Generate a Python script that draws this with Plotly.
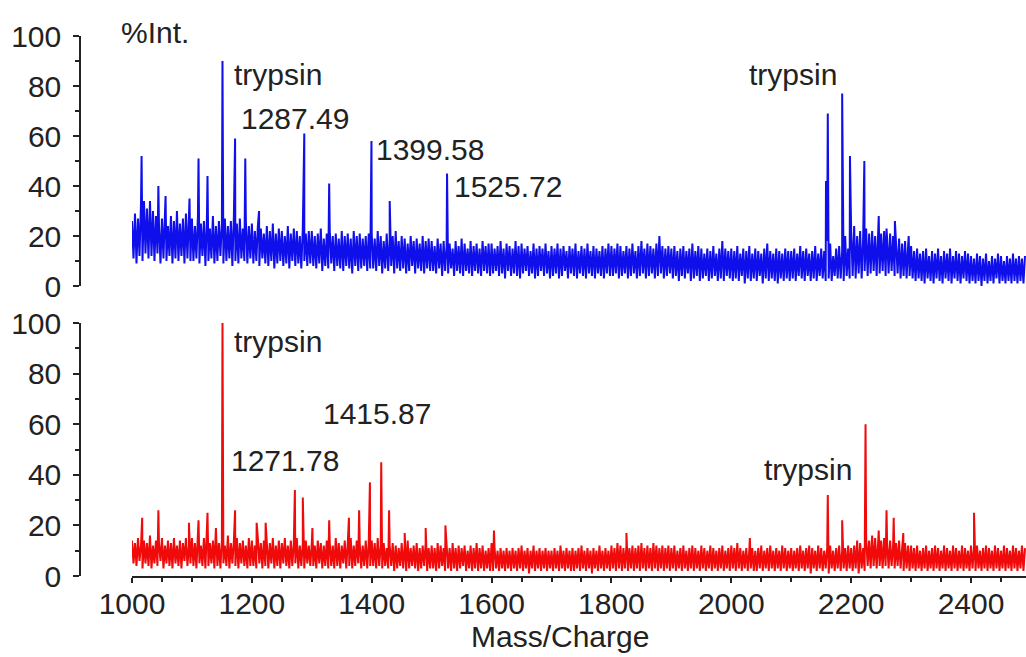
import numpy as np
import plotly.graph_objects as go

# ---------------------------------------------------------------------------
# Spectra data
# Baseline (noise) intensities sampled every 2.5 m/z from 1000 upward,
# one row per 100 m/z.
# ---------------------------------------------------------------------------
baseline_start = 1000
baseline_step = 2.5

top_baseline = [
    26, 11, 29, 9, 27, 12, 33, 10, 34, 13, 31, 11, 34, 12, 30, 10, 28, 13, 25, 9,
    27, 11, 29, 10, 24, 12, 28, 9, 26, 11, 30, 10, 25, 12, 27, 9, 29, 11, 26, 10,
    27, 10, 24, 11, 28, 9, 25, 12, 26, 8, 27, 10, 23, 11, 28, 9, 24, 10, 26, 12,
    25, 9, 27, 10, 24, 11, 26, 8, 28, 10, 25, 9, 27, 11, 23, 10, 26, 9, 24, 11,
    25, 9, 22, 10, 24, 8, 23, 11, 21, 9, 24, 8, 22, 10, 25, 7, 21, 9, 23, 10,
    22, 8, 20, 9, 24, 7, 21, 10, 23, 8, 22, 9, 20, 7, 23, 10, 21, 8, 22, 9,
    22, 8, 20, 7, 21, 9, 23, 6, 19, 8, 21, 7, 22, 9, 20, 6, 21, 8, 19, 7,
    22, 6, 20, 8, 21, 7, 19, 5, 22, 8, 20, 6, 21, 7, 19, 8, 20, 6, 21, 7,
    21, 7, 19, 6, 22, 8, 20, 5, 18, 7, 21, 6, 19, 8, 20, 5, 22, 7, 18, 6,
    20, 7, 19, 5, 17, 6, 20, 8, 18, 5, 19, 7, 17, 6, 20, 5, 18, 7, 19, 6,
    18, 6, 16, 5, 19, 7, 17, 4, 18, 6, 16, 5, 17, 7, 15, 4, 18, 6, 16, 5,
    19, 4, 17, 6, 15, 5, 18, 4, 16, 6, 17, 5, 15, 4, 18, 6, 16, 5, 17, 4,
    17, 5, 15, 6, 16, 4, 18, 5, 15, 3, 17, 6, 16, 4, 15, 5, 18, 4, 16, 3,
    17, 5, 15, 6, 16, 4, 14, 5, 17, 3, 15, 4, 16, 6, 15, 4, 17, 5, 14, 3,
    16, 4, 15, 5, 17, 3, 15, 4, 16, 6, 14, 3, 16, 5, 15, 4, 17, 3, 14, 5,
    16, 4, 15, 3, 17, 5, 14, 4, 16, 3, 15, 5, 14, 4, 16, 3, 15, 5, 17, 4,
    16, 4, 15, 5, 17, 3, 16, 4, 14, 5, 16, 3, 15, 4, 17, 5, 14, 3, 16, 4,
    18, 5, 15, 3, 17, 4, 16, 5, 15, 3, 17, 4, 20, 5, 16, 3, 15, 4, 16, 5,
    15, 3, 16, 4, 14, 2, 15, 4, 16, 3, 14, 5, 15, 2, 17, 3, 14, 4, 16, 2,
    15, 3, 13, 4, 15, 2, 14, 3, 16, 4, 13, 2, 15, 3, 18, 2, 15, 4, 14, 3,
    15, 2, 14, 3, 16, 2, 13, 4, 15, 1, 14, 3, 16, 2, 13, 3, 15, 2, 14, 4,
    13, 1, 15, 3, 17, 2, 14, 3, 13, 2, 15, 1, 14, 3, 13, 2, 15, 3, 14, 2,
    14, 3, 15, 2, 13, 4, 16, 3, 14, 2, 15, 4, 13, 2, 14, 3, 16, 2, 13, 4,
    15, 3, 14, 2, 18, 3, 17, 2, 12, 4, 15, 3, 16, 3, 14, 2, 20, 4, 15, 3,
    22, 4, 24, 3, 20, 5, 22, 3, 19, 6, 23, 4, 21, 5, 22, 6, 20, 4, 23, 5,
    21, 6, 22, 4, 19, 5, 21, 6, 20, 4, 18, 5, 19, 3, 17, 4, 18, 3, 16, 4,
    16, 3, 14, 2, 15, 3, 13, 2, 14, 1, 15, 3, 12, 2, 14, 1, 13, 3, 15, 2,
    12, 1, 14, 3, 13, 2, 15, 1, 12, 3, 14, 2, 13, 1, 12, 3, 14, 2, 13, 1,
    12, 2, 11, 1, 13, 2, 12, 0, 11, 2, 13, 1, 10, 2, 12, 1, 11, 3, 13, 1,
    12, 2, 10, 1, 12, 2, 11, 1, 13, 2, 11, 1, 12, 2, 11, 1, 12,
]

bottom_baseline = [
    14, 5, 13, 4, 15, 6, 12, 3, 14, 5, 13, 4, 16, 3, 12, 5, 14, 4, 13, 6,
    15, 3, 12, 5, 14, 4, 13, 3, 15, 5, 12, 4, 14, 3, 13, 6, 15, 4, 12, 5,
    15, 4, 13, 3, 14, 5, 12, 4, 15, 3, 16, 4, 13, 5, 14, 3, 15, 4, 13, 3,
    14, 5, 12, 4, 16, 3, 13, 5, 14, 4, 15, 3, 13, 5, 14, 4, 12, 3, 15, 4,
    14, 4, 12, 3, 15, 5, 13, 3, 14, 4, 12, 3, 13, 5, 15, 3, 12, 4, 14, 3,
    13, 5, 15, 4, 12, 3, 14, 4, 13, 5, 15, 3, 12, 4, 13, 3, 14, 5, 12, 4,
    13, 4, 12, 3, 14, 5, 13, 3, 12, 4, 14, 3, 13, 4, 12, 3, 15, 4, 13, 3,
    12, 5, 14, 3, 13, 4, 15, 3, 12, 4, 14, 5, 13, 3, 12, 4, 14, 3, 13, 4,
    14, 4, 13, 3, 15, 4, 12, 3, 13, 4, 11, 3, 12, 4, 13, 2, 12, 3, 11, 4,
    13, 3, 12, 2, 14, 3, 11, 4, 12, 3, 13, 2, 11, 3, 12, 4, 13, 2, 11, 3,
    12, 3, 11, 2, 13, 3, 12, 4, 11, 2, 12, 3, 11, 2, 13, 3, 11, 2, 12, 3,
    11, 4, 12, 2, 10, 3, 12, 2, 11, 3, 13, 2, 11, 3, 12, 2, 10, 3, 11, 2,
    13, 2, 11, 3, 10, 2, 11, 3, 10, 2, 11, 3, 10, 2, 11, 3, 10, 2, 11, 3,
    12, 2, 10, 3, 11, 1, 10, 3, 12, 2, 10, 3, 11, 2, 10, 3, 11, 2, 10, 3,
    10, 2, 11, 3, 10, 2, 12, 3, 10, 2, 11, 3, 10, 2, 11, 2, 10, 3, 11, 2,
    12, 3, 10, 2, 11, 3, 10, 1, 11, 3, 10, 2, 12, 3, 10, 2, 11, 3, 10, 2,
    12, 3, 11, 2, 13, 3, 12, 2, 11, 3, 12, 2, 11, 3, 12, 2, 11, 3, 12, 2,
    13, 3, 11, 2, 12, 3, 11, 2, 13, 3, 12, 2, 11, 3, 12, 2, 11, 3, 12, 2,
    11, 3, 12, 2, 10, 3, 11, 2, 12, 3, 10, 2, 11, 3, 12, 2, 11, 3, 10, 2,
    12, 3, 11, 2, 10, 3, 12, 2, 11, 3, 10, 2, 11, 3, 12, 2, 10, 3, 11, 2,
    12, 3, 11, 2, 13, 3, 11, 2, 10, 3, 11, 2, 10, 3, 11, 2, 10, 2, 11, 3,
    12, 2, 10, 3, 11, 2, 12, 3, 10, 2, 11, 3, 10, 2, 12, 3, 11, 2, 10, 3,
    11, 2, 10, 3, 11, 2, 12, 3, 10, 2, 11, 3, 12, 1, 11, 3, 10, 2, 12, 3,
    11, 2, 10, 3, 11, 1, 12, 3, 10, 2, 11, 3, 12, 2, 10, 3, 11, 2, 12, 3,
    11, 2, 12, 3, 14, 1, 13, 3, 11, 2, 15, 4, 14, 3, 16, 4, 15, 3, 13, 4,
    14, 3, 15, 4, 13, 3, 14, 4, 12, 3, 13, 4, 14, 3, 12, 2, 13, 3, 12, 2,
    12, 3, 11, 2, 12, 3, 10, 2, 11, 3, 12, 2, 10, 3, 11, 2, 12, 3, 11, 2,
    10, 3, 12, 2, 11, 3, 10, 2, 12, 3, 11, 2, 10, 3, 12, 2, 11, 3, 10, 2,
    12, 3, 11, 2, 12, 3, 10, 2, 11, 3, 12, 2, 11, 3, 10, 2, 12, 3, 11, 2,
    10, 3, 12, 2, 11, 3, 10, 2, 12, 3, 11, 2, 10, 3, 12, 2, 11,
]

# Resolved peaks: m/z and relative intensity (%)
top_peak_mz = [1016, 1044, 1056, 1075, 1096, 1111, 1126, 1151, 1172, 1189,
               1212, 1287.49, 1329, 1399.58, 1430, 1525.72,
               2158, 2161, 2185, 2198, 2222, 2246, 2259, 2273, 2296]
top_peak_int = [52, 40, 36, 30, 35, 51, 44, 90, 59, 51,
                30, 61, 41, 58, 34, 45,
                42, 69, 77, 52, 50, 28, 23, 26, 20]

bottom_peak_mz = [1017, 1044, 1095, 1111, 1126, 1140, 1151, 1172, 1208, 1223,
                  1271.78, 1285, 1301, 1329, 1362, 1379, 1397, 1415.87, 1429,
                  1455, 1490, 1523, 1604, 1825, 2031,
                  2161, 2185, 2224, 2246, 2259, 2271, 2287, 2405]
bottom_peak_int = [23, 26, 21, 22, 25, 19, 100, 26, 21, 21,
                   34, 31, 19, 22, 23, 26, 37, 45, 26,
                   17, 19, 20, 18, 17, 15,
                   32, 22, 60, 18, 26, 23, 17, 25]

x_tick_vals = [1000, 1200, 1400, 1600, 1800, 2000, 2200, 2400]
y_tick_vals = [0, 20, 40, 60, 80, 100]

# Peak annotations: text, left edge and vertical centre in pixels
peak_labels = [
    ("%Int.", 120, 32),
    ("trypsin", 233, 74),
    ("1287.49", 240, 119),
    ("1399.58", 375, 149),
    ("1525.72", 453, 186),
    ("trypsin", 748, 74),
    ("trypsin", 233, 341),
    ("1415.87", 322, 413),
    ("1271.78", 230, 460),
    ("trypsin", 763, 469),
]

# ---------------------------------------------------------------------------
W, H = 1026, 657
PX_PER_MZ = 0.5993
X0_PX = 132                      # pixel column of m/z 1000
X_MAX = 1000 + (W - X0_PX) / PX_PER_MZ


def spectrum(baseline, peak_mz, peak_int):
    mz = baseline_start + baseline_step * np.arange(len(baseline))
    x = np.concatenate([mz, np.asarray(peak_mz, float)])
    y = np.concatenate([np.asarray(baseline, float), np.asarray(peak_int, float)])
    order = np.argsort(x, kind="stable")
    return x[order], y[order]


def fx(px):
    return px / W


def fy(py):
    return 1 - py / H


FONT = dict(family="Liberation Sans, Arial, sans-serif", size=30, color="#222")

tx, ty = spectrum(top_baseline, top_peak_mz, top_peak_int)
bx, by = spectrum(bottom_baseline, bottom_peak_mz, bottom_peak_int)

fig = go.Figure()
fig.add_trace(go.Scatter(x=tx, y=ty, mode="lines", xaxis="x", yaxis="y",
                         line=dict(color="rgb(15,15,235)", width=2),
                         showlegend=False, hoverinfo="skip"))
fig.add_trace(go.Scatter(x=bx, y=by, mode="lines", xaxis="x2", yaxis="y2",
                         line=dict(color="rgb(240,10,10)", width=2),
                         showlegend=False, hoverinfo="skip"))

yaxis_common = dict(
    range=[0, 100], anchor="free", position=fx(80), automargin=False,
    showline=True, linecolor="#222", linewidth=1.5,
    ticks="outside", ticklen=6, tickwidth=1.5, tickcolor="#222",
    tickmode="array", tickvals=y_tick_vals,
    minor=dict(ticks="outside", dtick=10, tick0=0, ticklen=4,
               tickwidth=1.5, tickcolor="#222"),
    showgrid=False, zeroline=False, tickfont=FONT,
    ticklabelstandoff=6,
)

fig.update_layout(
    width=W, height=H,
    margin=dict(l=0, r=0, t=0, b=0),
    paper_bgcolor="white", plot_bgcolor="white",
    xaxis=dict(domain=[fx(X0_PX), 1], range=[1000, X_MAX], anchor="y",
               visible=False, automargin=False),
    xaxis2=dict(domain=[fx(X0_PX), 1], range=[1000, X_MAX], anchor="y2",
                automargin=False,
                showline=True, linecolor="#222", linewidth=1.5,
                ticks="outside", ticklen=5, tickwidth=1.5, tickcolor="#222",
                tickmode="array", tickvals=x_tick_vals,
                minor=dict(ticks="outside", dtick=50, tick0=1000, ticklen=4,
                           tickwidth=1.5, tickcolor="#222"),
                showgrid=False, zeroline=False, tickfont=FONT,
                ticklabelstandoff=-5),
    yaxis=dict(domain=[fy(286), fy(36)], **yaxis_common),
    yaxis2=dict(domain=[fy(576), fy(323)], **yaxis_common),
)

for text, left, cy in peak_labels:
    fig.add_annotation(text=text, x=fx(left), y=fy(cy), xref="paper", yref="paper",
                       xanchor="left", yanchor="middle", showarrow=False,
                       font=FONT, borderpad=0)

fig.add_annotation(text="Mass/Charge", x=fx(560), y=fy(636), xref="paper",
                   yref="paper", xanchor="center", yanchor="middle",
                   showarrow=False, font=FONT, borderpad=0)

fig.write_html("out.html")
